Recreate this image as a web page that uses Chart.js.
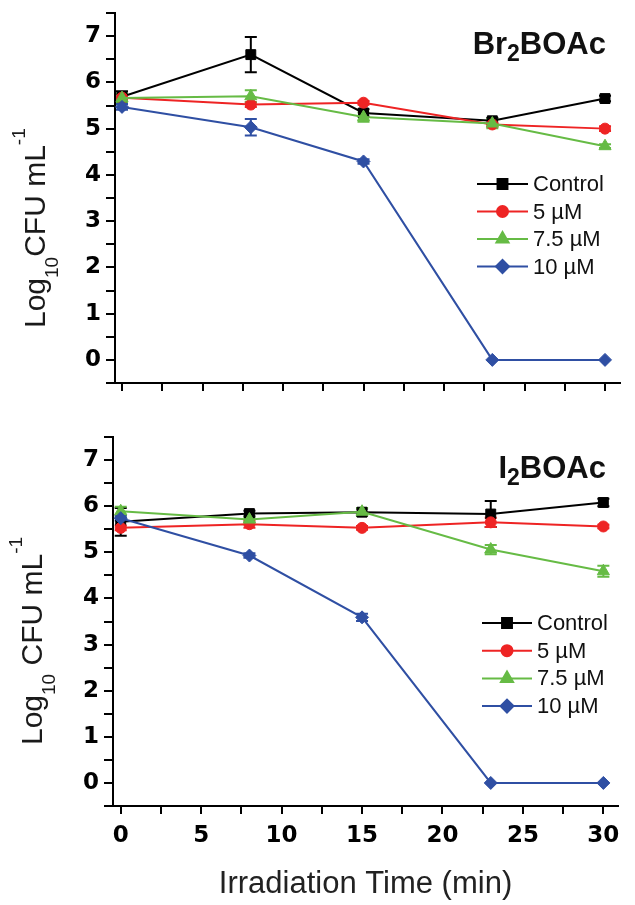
<!DOCTYPE html>
<html>
<head>
<meta charset="utf-8">
<script src="https://cdn.jsdelivr.net/npm/chart.js@4.4.1/dist/chart.umd.min.js"></script>
<style>
  html, body { margin: 0; padding: 0; background: #fff; }
  #wrap { position: relative; width: 635px; height: 905px; }
  canvas { position: absolute; left: 0; }
  #topChart { top: 0; }
  #bottomChart { top: 420px; }
</style>
</head>
<body>
<div id="wrap">
  <canvas id="topChart" width="635" height="420"></canvas>
  <canvas id="bottomChart" width="635" height="485"></canvas>
</div>
<script>
// Sampling times (min) and tick labels
const timePoints = [0, 8, 15, 23, 30];
const seriesNames = ['Control', '5 µM', '7.5 µM', '10 µM'];
const xTickLabels = [0, 5, 10, 15, 20, 25, 30];
const yTickLabels = [0, 1, 2, 3, 4, 5, 6, 7];

// Br2BOAc panel (Log10 CFU/mL)
const brControl = [5.69, 6.60, 5.34, 5.17, 5.65];
const brControlErr = [0.12, 0.38, 0.08, 0.06, 0.06];
const br5uM = [5.67, 5.52, 5.56, 5.09, 5.00];
const br5uMErr = [0.08, 0.05, 0.04, 0.05, 0.05];
const br75uM = [5.66, 5.70, 5.25, 5.11, 4.62];
const br75uMErr = [0.10, 0.13, 0.10, 0.10, 0.04];
const br10uM = [5.47, 5.03, 4.29, 0, 0];
const br10uMErr = [0.06, 0.18, 0.05, 0, 0];

// I2BOAc panel (Log10 CFU/mL)
const iControl = [5.66, 5.84, 5.87, 5.83, 6.08];
const iControlErr = [0.30, 0.06, 0.08, 0.28, 0.08];
const i5uM = [5.53, 5.61, 5.53, 5.65, 5.56];
const i5uMErr = [0.05, 0.08, 0.04, 0.10, 0.04];
const i75uM = [5.89, 5.71, 5.88, 5.06, 4.59];
const i75uMErr = [0.10, 0.05, 0.08, 0.10, 0.12];
const i10uM = [5.74, 4.93, 3.59, 0, 0];
const i10uMErr = [0.05, 0.05, 0.08, 0, 0];

const FONT = "'Liberation Sans', Arial, Helvetica, sans-serif";
const TICK_FONT = "'DejaVu Sans', Verdana, sans-serif";

const seriesStyles = [
    { color: '#000000', pointStyle: 'rect', radius: 7, order: 4 },
    { color: '#ee2424', pointStyle: 'circle', radius: 5.5, order: 3 },
    { color: '#66bb45', pointStyle: 'triangle', radius: 7, order: 2 },
    { color: '#2f4fa3', pointStyle: 'rectRot', radius: 6.5, order: 1 }
];

// Error bars, drawn under the lines and markers
function errorBarPlugin(errors) {
    return {
        id: 'errorBars',
        beforeDatasetsDraw(chart) {
            const ctx = chart.ctx;
            const yScale = chart.scales.y;
            ctx.save();
            chart.data.datasets.forEach((ds, di) => {
                const meta = chart.getDatasetMeta(di);
                const errs = errors[di];
                ctx.strokeStyle = ds.borderColor;
                ctx.lineWidth = 2;
                meta.data.forEach((pt, i) => {
                    const e = errs[i];
                    if (!e) return;
                    const v = ds.data[i].y;
                    const yTop = yScale.getPixelForValue(v + e);
                    const yBot = yScale.getPixelForValue(v - e);
                    ctx.beginPath();
                    ctx.moveTo(pt.x, yTop);
                    ctx.lineTo(pt.x, yBot);
                    ctx.moveTo(pt.x - 6, yTop);
                    ctx.lineTo(pt.x + 6, yTop);
                    ctx.moveTo(pt.x - 6, yBot);
                    ctx.lineTo(pt.x + 6, yBot);
                    ctx.stroke();
                });
            });
            ctx.restore();
        }
    };
}

// Legend inside the plot, panel title and y title with sub/superscripts
function decorPlugin(cfg) {
    return {
        id: 'decor',
        afterDraw(chart) {
            const ctx = chart.ctx;
            ctx.save();

            // legend
            const lg = cfg.legend;
            chart.data.datasets.forEach((ds, i) => {
                const y = lg.top + i * lg.gap;
                ctx.strokeStyle = ds.borderColor;
                ctx.fillStyle = ds.borderColor;
                ctx.lineWidth = 2;
                ctx.beginPath();
                ctx.moveTo(lg.x0, y);
                ctx.lineTo(lg.x1, y);
                ctx.stroke();
                Chart.helpers.drawPoint(ctx, {
                    pointStyle: ds.pointStyle,
                    radius: ds.pointRadius,
                    rotation: 0,
                    borderWidth: 1
                }, (lg.x0 + lg.x1) / 2, y);
                ctx.fillStyle = '#111';
                ctx.font = '22px ' + FONT;
                ctx.textAlign = 'left';
                ctx.textBaseline = 'middle';
                ctx.fillText(ds.label, lg.textX, y + 1);
            });

            // panel title, right aligned
            const t = cfg.title;
            ctx.textBaseline = 'alphabetic';
            ctx.textAlign = 'left';
            let total = 0;
            t.parts.forEach(p => {
                ctx.font = 'bold ' + (p.sub ? 23 : 31) + 'px ' + FONT;
                total += ctx.measureText(p.text).width;
            });
            let tx = t.right - total;
            ctx.fillStyle = '#111';
            t.parts.forEach(p => {
                ctx.font = 'bold ' + (p.sub ? 23 : 31) + 'px ' + FONT;
                ctx.fillText(p.text, tx, t.baseline + (p.sub ? 7 : 0));
                tx += ctx.measureText(p.text).width;
            });

            // rotated y-axis title
            const yt = cfg.yTitle;
            ctx.translate(yt.baselineX, yt.startY);
            ctx.rotate(-Math.PI / 2);
            ctx.fillStyle = '#1a1a1a';
            let px = 0;
            yt.parts.forEach(p => {
                const dy = p.dy || 0;
                ctx.font = (dy ? 19 : 30) + 'px ' + FONT;
                ctx.fillText(p.text, px, dy);
                px += ctx.measureText(p.text).width;
            });

            ctx.restore();
        }
    };
}

function makeDatasets(valueLists) {
    return valueLists.map((vals, i) => {
        const st = seriesStyles[i];
        return {
            label: seriesNames[i],
            data: timePoints.map((t, k) => ({ x: t, y: vals[k] })),
            borderColor: st.color,
            backgroundColor: st.color,
            borderWidth: 2,
            pointStyle: st.pointStyle,
            pointRadius: st.radius,
            pointHoverRadius: st.radius,
            pointBackgroundColor: st.color,
            pointBorderColor: st.color,
            pointBorderWidth: 1,
            tension: 0,
            order: st.order
        };
    });
}

function buildPanel(canvasId, cfg) {
    const axisGrid = {
        drawOnChartArea: false,
        drawTicks: true,
        color: '#000',
        lineWidth: 2
    };
    return new Chart(document.getElementById(canvasId), {
        type: 'line',
        data: { datasets: makeDatasets(cfg.values) },
        options: {
            responsive: false,
            animation: false,
            events: [],
            layout: { padding: cfg.padding },
            plugins: {
                legend: { display: false },
                tooltip: { enabled: false }
            },
            scales: {
                x: {
                    type: 'linear',
                    min: cfg.xMin,
                    max: cfg.xMax,
                    afterFit(s) { s.height = cfg.xHeight; s.paddingLeft = 0; s.paddingRight = 0; },
                    ticks: {
                        display: cfg.showX,
                        stepSize: 2.5,
                        includeBounds: false,
                        autoSkip: false,
                        maxTicksLimit: 100,
                        maxRotation: 0,
                        minRotation: 0,
                        padding: 8,
                        color: '#000',
                        font: { family: TICK_FONT, size: 23, weight: 'bold' },
                        callback: v => xTickLabels.includes(v) ? String(v) : ''
                    },
                    grid: Object.assign({ tickLength: 8 }, axisGrid),
                    border: { display: true, color: '#000', width: 2 },
                    title: {
                        display: cfg.showX,
                        text: 'Irradiation Time (min)',
                        color: '#222',
                        font: { family: FONT, size: 31 },
                        padding: { top: 0, bottom: 2 }
                    }
                },
                y: {
                    min: -0.5,
                    max: 7.5,
                    afterFit(s) { s.width = cfg.yWidth; s.paddingTop = 0; s.paddingBottom = 0; },
                    ticks: {
                        stepSize: 0.5,
                        autoSkip: false,
                        maxTicksLimit: 100,
                        padding: 5,
                        color: '#000',
                        font: { family: TICK_FONT, size: 23, weight: 'bold' },
                        callback: v => yTickLabels.includes(v) ? String(v) : ''
                    },
                    grid: Object.assign({ tickLength: 9 }, axisGrid),
                    border: { display: true, color: '#000', width: 2 }
                }
            }
        },
        plugins: [errorBarPlugin(cfg.errors), decorPlugin(cfg)]
    });
}

buildPanel('topChart', {
    values: [brControl, br5uM, br75uM, br10uM],
    errors: [brControlErr, br5uMErr, br75uMErr, br10uMErr],
    padding: { left: 0, right: 15, top: 13, bottom: 0 },
    yWidth: 115,
    xHeight: 37,
    xMin: -0.435,
    xMax: 30.93,
    showX: false,
    legend: { x0: 477, x1: 528, textX: 533, top: 184, gap: 27.5 },
    title: { parts: [{ text: 'Br' }, { text: '2', sub: true }, { text: 'BOAc' }], right: 606, baseline: 54 },
    yTitle: {
        baselineX: 45, startY: 328,
        parts: [{ text: 'Log' }, { text: '10', dy: 13 }, { text: 'CFU mL' }, { text: '-1', dy: -20 }]
    }
});

buildPanel('bottomChart', {
    values: [iControl, i5uM, i75uM, i10uM],
    errors: [iControlErr, i5uMErr, i75uMErr, i10uMErr],
    padding: { left: 0, right: 17, top: 17, bottom: 0 },
    yWidth: 113,
    xHeight: 99,
    xMin: -0.48,
    xMax: 30.91,
    showX: true,
    legend: { x0: 482, x1: 532, textX: 537, top: 203, gap: 27.7 },
    title: { parts: [{ text: 'I' }, { text: '2', sub: true }, { text: 'BOAc' }], right: 606, baseline: 58 },
    yTitle: {
        baselineX: 42, startY: 325,
        parts: [{ text: 'Log' }, { text: '10', dy: 13 }, { text: ' CFU mL' }, { text: '-1', dy: -20 }]
    }
});
</script>
</body>
</html>
